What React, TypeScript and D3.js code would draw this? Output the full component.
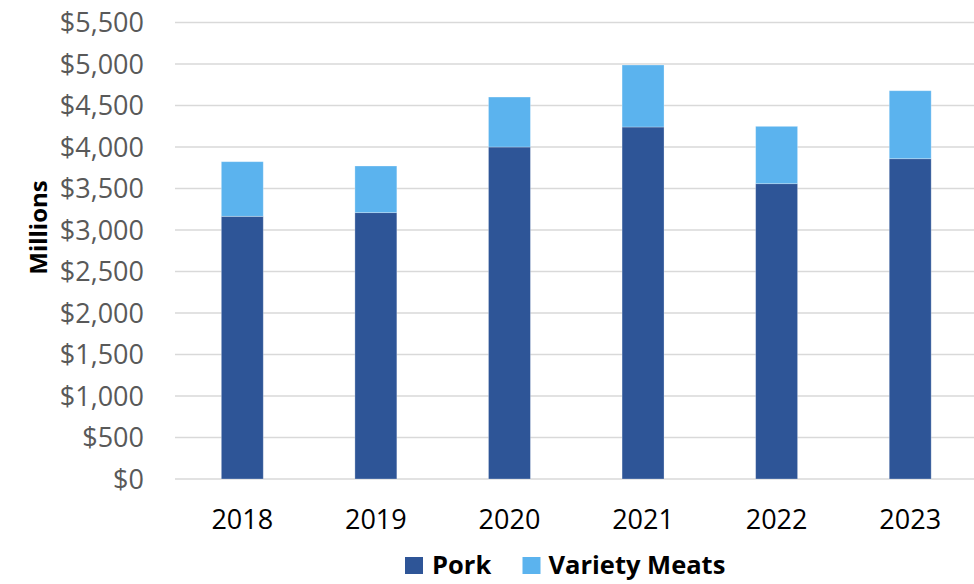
import React from "react";
import * as d3 from "d3";

const years = ["2018", "2019", "2020", "2021", "2022", "2023"];
const pork = [3165, 3209, 4000, 4241, 3558, 3859];
const varietyMeats = [658, 562, 602, 747, 691, 819];
const yTicks = [0, 500, 1000, 1500, 2000, 2500, 3000, 3500, 4000, 4500, 5000, 5500];
const seriesNames = ["Pork", "Variety Meats"];
const colors = ["#2E5597", "#5BB3EE"];

const W = 974;
const H = 584;
const FONT = "'Open Sans', 'Noto Sans', sans-serif";

export default function App() {
  const x = d3
    .scaleBand<string>()
    .domain(years)
    .range([175.5, 977])
    .paddingInner(0.686)
    .paddingOuter(0.343);
  const y = d3.scaleLinear().domain([0, 5500]).range([479, 22.5]);
  const fmt = (v: number) => "$" + d3.format(",")(v);

  const rows = years.map((yr, i) => ({ year: yr, pork: pork[i], variety: varietyMeats[i] }));
  const stack = d3.stack<any>().keys(["pork", "variety"])(rows);

  return (
    <svg
      width={W}
      height={H}
      style={{ position: "absolute", left: 0, top: 0, background: "#fff" }}
      fontFamily={FONT}
    >
      {yTicks.map((t) => (
        <g key={t}>
          <line x1={175} x2={974} y1={y(t)} y2={y(t)} stroke="#D9D9D9" strokeWidth={1.6} />
          <text x={144} y={y(t) + 9.6} textAnchor="end" fontSize={27} fill="#595959">
            {fmt(t)}
          </text>
        </g>
      ))}
      {stack.map((s, si) =>
        s.map((d: any, i: number) => (
          <rect
            key={si + "-" + i}
            x={x(years[i])!}
            width={x.bandwidth()}
            y={y(d[1])}
            height={y(d[0]) - y(d[1])}
            fill={colors[si]}
            stroke="#ffffff"
            strokeOpacity={0.35}
            strokeWidth={0.8}
          />
        ))
      )}
      {years.map((yr) => (
        <text
          key={yr}
          x={x(yr)! + x.bandwidth() / 2}
          y={529}
          textAnchor="middle"
          fontSize={27}
          fill="#000"
        >
          {yr}
        </text>
      ))}
      <text
        transform="translate(46.5,227.5) rotate(-90)"
        textAnchor="middle"
        fontSize={24}
        fontWeight="bold"
        fill="#000"
      >
        Millions
      </text>
      {/* legend */}
      <g>
        <rect x={405} y={557} width={18} height={17} fill={colors[0]} />
        <text x={432} y={574} fontSize={25.5} fontWeight="bold" fill="#000">
          {seriesNames[0]}
        </text>
        <rect x={522.5} y={557} width={18} height={17} fill={colors[1]} />
        <text x={548.5} y={574} fontSize={25.5} fontWeight="bold" fill="#000">
          {seriesNames[1]}
        </text>
      </g>
    </svg>
  );
}
